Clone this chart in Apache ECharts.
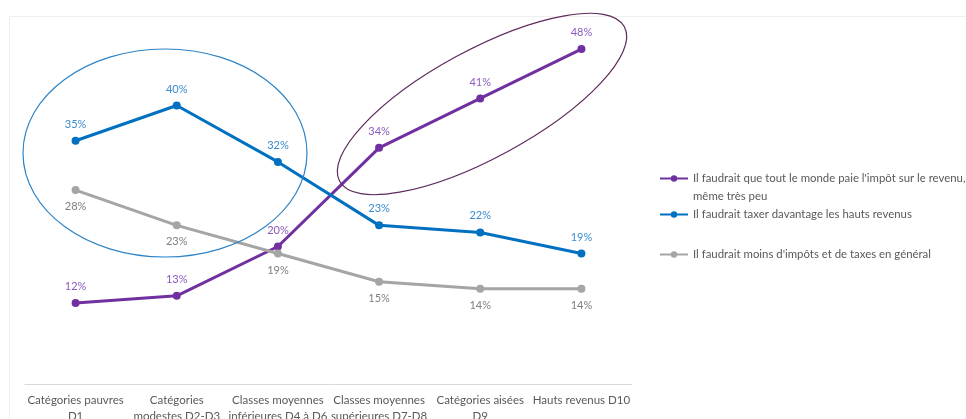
<!DOCTYPE html>
<html>
<head>
<meta charset="utf-8">
<script src="https://cdn.jsdelivr.net/npm/echarts@6/dist/echarts.min.js"></script>
<style>
  html, body { margin: 0; padding: 0; background: #fff; }
  #chart { width: 966px; height: 419px; }
</style>
</head>
<body>
<div id="chart"></div>
<script>
// Income groups along the horizontal axis
var categories = [
  'Catégories pauvres\nD1',
  'Catégories\nmodestes D2-D3',
  'Classes moyennes\ninférieures D4 à D6',
  'Classes moyennes\nsupérieures D7-D8',
  'Catégories aisées\nD9',
  'Hauts revenus D10'
];

// Share of respondents per opinion (%)
var seriesNames = [
  "Il faudrait que tout le monde paie l'impôt sur le revenu, même très peu",
  'Il faudrait taxer davantage les hauts revenus',
  "Il faudrait moins d'impôts et de taxes en général"
];
var everyonePays = [12, 13, 20, 34, 41, 48];
var taxTheRich   = [35, 40, 32, 23, 22, 19];
var lessTaxes    = [28, 23, 19, 15, 14, 14];

var FONT = 'Lato, "Noto Sans", sans-serif';

function lineSeries(name, data, color, labelColor, labelPos) {
  return {
    name: name,
    type: 'line',
    data: data,
    symbol: 'circle',
    symbolSize: 8,
    lineStyle: { color: color, width: 3 },
    itemStyle: { color: color },
    label: {
      show: true,
      position: labelPos,
      distance: 7,
      color: labelColor,
      fontFamily: FONT,
      fontSize: 11,
      formatter: '{c}%'
    },
    emphasis: { disabled: true },
    animation: false
  };
}

// One legend block per series so each row sits at its own height
function legendFor(name, top, text) {
  return {
    orient: 'vertical',
    left: 654,
    top: top,
    itemWidth: 28,
    itemHeight: 8,
    itemGap: 0,
    selectedMode: false,
    data: [name],
    formatter: function () { return text; },
    textStyle: {
      color: '#595959',
      fontFamily: FONT,
      fontSize: 11.4
    }
  };
}

var chart = echarts.init(document.getElementById('chart'), null, { renderer: 'canvas' });

chart.setOption({
  backgroundColor: '#ffffff',
  animation: false,
  grid: { left: 25, right: 334, top: 35, bottom: 35, containLabel: false, outerBoundsMode: 'none' },
  xAxis: {
    type: 'category',
    data: categories,
    boundaryGap: true,
    axisLine: { lineStyle: { color: '#d9d9d9', width: 1 } },
    axisTick: { show: false },
    axisLabel: {
      color: '#595959',
      fontFamily: FONT,
      fontSize: 11.5,
      lineHeight: 16,
      margin: 8,
      interval: 0
    }
  },
  yAxis: {
    type: 'value',
    min: 0.5,
    max: 50,
    show: false
  },
  legend: [
    legendFor(seriesNames[0], 168, "Il faudrait que tout le monde paie l'impôt sur le revenu,"),
    legendFor(seriesNames[1], 204, seriesNames[1]),
    legendFor(seriesNames[2], 244, seriesNames[2])
  ],
  graphic: [
    {
      type: 'rect',
      silent: true,
      shape: { x: 9.5, y: 16.5, width: 1000, height: 500 },
      style: { fill: 'none', stroke: '#f0f0f0', lineWidth: 1 },
      z: -1
    },
    {
      // continuation line of the first legend entry
      type: 'text',
      silent: true,
      x: 693,
      y: 196,
      style: {
        text: 'même très peu',
        fill: '#595959',
        font: '11.4px Lato, "Noto Sans", sans-serif',
        verticalAlign: 'middle'
      }
    },
    {
      type: 'ellipse',
      silent: true,
      shape: { cx: 165, cy: 153, rx: 142, ry: 104 },
      style: { fill: 'none', stroke: '#2E84C6', lineWidth: 1.2 },
      z: 10
    },
    {
      type: 'ellipse',
      silent: true,
      x: 482,
      y: 104,
      rotation: 28.5 * Math.PI / 180,
      shape: { cx: 0, cy: 0, rx: 162, ry: 54 },
      style: { fill: 'none', stroke: '#5E2A5C', lineWidth: 1.2 },
      z: 10
    }
  ],
  series: [
    lineSeries(seriesNames[0], everyonePays, '#7030A0', '#8B5CC0', 'top'),
    lineSeries(seriesNames[1], taxTheRich, '#0070C0', '#3A8CCF', 'top'),
    lineSeries(seriesNames[2], lessTaxes, '#A5A5A5', '#7F7F7F', 'bottom')
  ]
});
</script>
</body>
</html>
